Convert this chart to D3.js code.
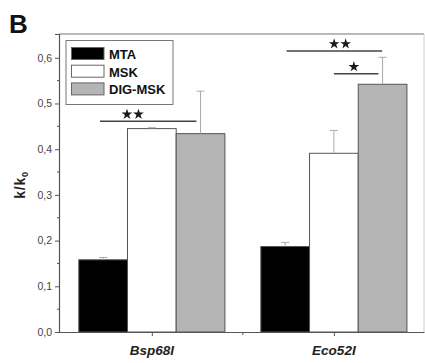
<!DOCTYPE html>
<html>
<head>
<meta charset="utf-8">
<script src="https://cdn.jsdelivr.net/npm/d3@7"></script>
<style>
  body { margin: 0; background: #fff; }
  text { font-family: Arial, "Liberation Sans", sans-serif; }
</style>
</head>
<body>
<svg id="drawing_region"></svg>
<script>
const categories = ['Bsp68I', 'Eco52I'];
const series = ['MTA', 'MSK', 'DIG-MSK'];
const colors = ['#000000', '#ffffff', '#b4b4b4'];
// bar heights per category, one array per series
const mtaValues = [0.158, 0.187];
const mskValues = [0.445, 0.391];
const digValues = [0.434, 0.542];
// upper error bar ends
const mtaErr = [0.163, 0.196];
const mskErr = [0.447, 0.441];
const digErr = [0.527, 0.601];
const yTicks = [0, 0.1, 0.2, 0.3, 0.4, 0.5, 0.6];
// significance marks: category, level, number of stars
const sigCats = [0, 1, 1];
const sigLevels = [0.461, 0.615, 0.565];
const sigStars = [2, 2, 1];

const values = [mtaValues, mskValues, digValues];
const errs = [mtaErr, mskErr, digErr];

const config = {
  width: 425, height: 363,
  left: 59, right: 424, top: 34, bottom: 332,
  // bracket extents / star centre, relative to category centre (x units)
  sigSpan: [[-0.285, 0.245, -0.105], [-0.26, 0.265, 0.033], [0.0, 0.245, 0.11]]
};

const svg = d3.select('#drawing_region')
  .attr('width', config.width)
  .attr('height', config.height);

const x = d3.scaleLinear().domain([0.49, 2.495]).range([config.left, config.right]);
const y = d3.scaleLinear().domain([0, 0.652]).range([config.bottom, config.top]);
const barW = 0.2675;

const axisColor = '#555';

// frame top & right
svg.append('line')
  .attr('x1', config.left).attr('x2', config.right)
  .attr('y1', config.top).attr('y2', config.top)
  .attr('stroke', '#777').attr('stroke-width', 1.2);
svg.append('line')
  .attr('x1', config.right).attr('x2', config.right)
  .attr('y1', config.top).attr('y2', config.bottom)
  .attr('stroke', '#ccc').attr('stroke-width', 1);

// bars
const data = [];
categories.forEach((c, i) => {
  series.forEach((s, j) => {
    data.push({ cat: i, s: j, v: values[j][i], e: errs[j][i] });
  });
});

const barX = d => x(d.cat + 1 + (d.s - 1.5) * barW);

svg.selectAll('rect.bar')
  .data(data)
  .enter()
  .append('rect')
  .attr('class', 'bar')
  .attr('x', d => barX(d))
  .attr('y', d => y(d.v))
  .attr('width', d => x(barW) - x(0))
  .attr('height', d => y(0) - y(d.v))
  .attr('fill', d => colors[d.s])
  .attr('stroke', '#555')
  .attr('stroke-width', 1);

// error bars (upper only)
const errG = svg.append('g');
data.forEach(d => {
  const cx = x(d.cat + 1 + (d.s - 1) * barW);
  errG.append('line')
    .attr('x1', cx).attr('x2', cx)
    .attr('y1', y(d.v)).attr('y2', y(d.e))
    .attr('stroke', '#aaa').attr('stroke-width', 1);
  errG.append('line')
    .attr('x1', cx - 4).attr('x2', cx + 4)
    .attr('y1', y(d.e)).attr('y2', y(d.e))
    .attr('stroke', '#aaa').attr('stroke-width', 1);
});

// y axis
const yAxis = d3.axisLeft(y).tickValues(yTicks).tickSize(4).tickPadding(3)
  .tickFormat(d => d3.format('.1f')(d).replace('.', ','));
const yg = svg.append('g')
  .attr('transform', `translate(${config.left},0)`)
  .call(yAxis);
yg.select('.domain').attr('stroke', axisColor).attr('stroke-width', 1.2);
yg.selectAll('.tick line').attr('stroke', axisColor);
yg.selectAll('.tick text').attr('fill', '#444').attr('font-size', 10.5)
  .attr('font-family', 'Arial, "Liberation Sans", sans-serif');
// minor y ticks
yg.selectAll('line.minor')
  .data(d3.range(0.05, 0.65, 0.1))
  .enter().append('line')
  .attr('class', 'minor')
  .attr('x1', -2).attr('x2', 0)
  .attr('y1', d => y(d)).attr('y2', d => y(d))
  .attr('stroke', axisColor);

// x axis
const xAxis = d3.axisBottom(x).tickValues([1, 2]).tickSize(4).tickSizeOuter(0).tickFormat('');
const xg = svg.append('g')
  .attr('transform', `translate(0,${config.bottom})`)
  .call(xAxis);
xg.select('.domain').attr('stroke', axisColor).attr('stroke-width', 1.2);
xg.selectAll('.tick line').attr('stroke', axisColor);
xg.selectAll('line.minor')
  .data([1.5])
  .enter().append('line')
  .attr('class', 'minor')
  .attr('x1', d => x(d)).attr('x2', d => x(d))
  .attr('y1', 0).attr('y2', 3)
  .attr('stroke', axisColor);

svg.selectAll('text.cat')
  .data(categories)
  .enter().append('text')
  .attr('class', 'cat')
  .attr('x', (d, i) => x(i + 1))
  .attr('y', 354.5)
  .attr('text-anchor', 'middle')
  .attr('font-size', 13.5)
  .attr('font-weight', 'bold')
  .attr('font-style', 'italic')
  .attr('fill', '#222')
  .text(d => d);

// y label
const yl = svg.append('text')
  .attr('transform', `translate(25,${(config.top + config.bottom) / 2 + 2}) rotate(-90)`)
  .attr('text-anchor', 'middle')
  .attr('font-size', 14)
  .attr('font-weight', 'bold')
  .attr('letter-spacing', 0.8)
  .attr('fill', '#222');
yl.append('tspan').text('k/k');
yl.append('tspan').attr('font-size', 9).attr('dy', 3).text('0');

// panel letter
svg.append('text')
  .attr('x', 9).attr('y', 32.5)
  .attr('font-size', 26)
  .attr('font-weight', 'bold')
  .attr('fill', '#111')
  .text('B');

// significance brackets with star symbols
const star = d3.symbol().type(d3.symbolStar).size(36);
sigCats.forEach((c, i) => {
  const span = config.sigSpan[i];
  const xc = c + 1;
  const x0 = x(xc + span[0]), x1 = x(xc + span[1]);
  const ly = y(sigLevels[i]);
  svg.append('line')
    .attr('x1', x0).attr('x2', x1)
    .attr('y1', ly).attr('y2', ly)
    .attr('stroke', '#444').attr('stroke-width', 1.5);
  const sc = x(xc + span[2]);
  const n = sigStars[i];
  for (let k = 0; k < n; k++) {
    const sx = sc + (k - (n - 1) / 2) * 11.5;
    svg.append('path')
      .attr('d', star)
      .attr('transform', `translate(${sx},${ly - 7})`)
      .attr('fill', '#1a1a1a');
  }
});

// legend
const lg = svg.append('g').attr('transform', 'translate(66,40.5)');
lg.append('rect')
  .attr('width', 107).attr('height', 64)
  .attr('fill', '#fff').attr('stroke', '#777').attr('stroke-width', 1);
series.forEach((s, i) => {
  const yy = 7 + i * 17.7;
  lg.append('rect')
    .attr('x', 5.5).attr('y', yy)
    .attr('width', 32.5).attr('height', 12)
    .attr('fill', colors[i]).attr('stroke', '#666').attr('stroke-width', 1);
  lg.append('text')
    .attr('x', 43).attr('y', yy + 11.5)
    .attr('font-size', 13)
    .attr('font-weight', 'bold')
    .attr('fill', '#111')
    .text(s);
});
</script>
</body>
</html>
